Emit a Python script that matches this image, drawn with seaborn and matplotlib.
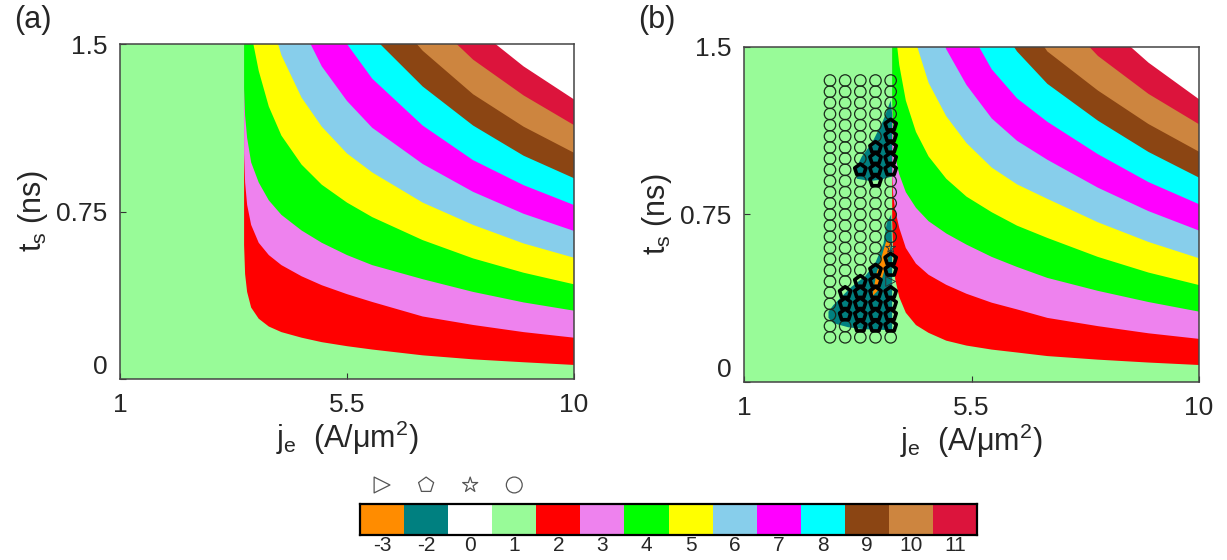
import numpy as np
import matplotlib
matplotlib.use("Agg")
import matplotlib.pyplot as plt
import seaborn as sns
from matplotlib.colors import ListedColormap

# colour key (value -> colour)
levels = [-3, -2, 0, 1, 2, 3, 4, 5, 6, 7, 8, 9, 10, 11]
level_colors = ["#FF8C00", "#008080", "#FFFFFF", "#98FB98", "#FF0000", "#EE82EE",
                "#00FF00", "#FFFF00", "#87CEEB", "#FF00FF", "#00FFFF", "#8B4513",
                "#CD853F", "#DC143C"]
# level found above boundary k (boundary 1 = first switch, ...)
band_levels = [2, 3, 4, 5, 6, 7, 8, 9, 10, 11, 0]

# panel (a): boundaries t_s(j_e)
a_j = [3.46, 3.48, 3.52, 3.6, 3.75, 3.95, 4.2, 4.6, 5.0, 5.5, 6.0, 7.0, 8.0, 9.0, 10.0]
a_bounds = [
    [0.60, 0.47, 0.39, 0.32, 0.27, 0.235, 0.21, 0.185, 0.165, 0.147, 0.132, 0.106, 0.088, 0.075, 0.063],
    [1.01, 0.88, 0.78, 0.69, 0.61, 0.555, 0.51, 0.46, 0.42, 0.38, 0.345, 0.28, 0.242, 0.21, 0.185],
    [1.30, 1.18, 1.08, 0.97, 0.88, 0.80, 0.735, 0.665, 0.61, 0.555, 0.51, 0.447, 0.39, 0.343, 0.306],
    [1.70, 1.62, 1.58, 1.55, 1.38, 1.22, 1.09, 0.96, 0.87, 0.79, 0.725, 0.622, 0.54, 0.476, 0.424],
    [2.4, 2.3, 2.2, 2.05, 1.85, 1.64, 1.45, 1.26, 1.13, 1.01, 0.925, 0.79, 0.69, 0.607, 0.543],
    [2.8, 2.7, 2.6, 2.45, 2.25, 2.05, 1.85, 1.58, 1.40, 1.245, 1.125, 0.963, 0.838, 0.74, 0.663],
    [3.1, 3.0, 2.9, 2.75, 2.6, 2.4, 2.15, 1.88, 1.69, 1.50, 1.345, 1.135, 0.98, 0.868, 0.779],
    [3.3, 3.2, 3.1, 3.0, 2.85, 2.65, 2.42, 2.12, 1.92, 1.71, 1.535, 1.31, 1.135, 1.0, 0.899],
    [3.6, 3.5, 3.4, 3.3, 3.15, 2.95, 2.7, 2.38, 2.15, 1.92, 1.73, 1.47, 1.275, 1.13, 1.013],
    [3.9, 3.8, 3.7, 3.6, 3.45, 3.25, 3.0, 2.65, 2.4, 2.15, 1.94, 1.645, 1.43, 1.27, 1.137],
    [4.2, 4.1, 4.0, 3.9, 3.75, 3.55, 3.3, 2.92, 2.65, 2.37, 2.14, 1.81, 1.58, 1.40, 1.252],
]

# panel (b)
b_j = [3.93, 3.95, 3.99, 4.07, 4.2, 4.4, 4.65, 5.0, 5.4, 5.9, 6.4, 7.0, 8.0, 9.0, 10.0]
b_bounds = [
    [0.72, 0.56, 0.46, 0.38, 0.31, 0.255, 0.22, 0.185, 0.163, 0.145, 0.132, 0.116, 0.100, 0.087, 0.076],
    [0.93, 0.84, 0.77, 0.69, 0.60, 0.53, 0.48, 0.435, 0.395, 0.355, 0.325, 0.287, 0.25, 0.218, 0.193],
    [1.26, 1.10, 1.01, 0.93, 0.85, 0.78, 0.72, 0.665, 0.615, 0.56, 0.515, 0.466, 0.408, 0.358, 0.315],
    [1.9, 1.75, 1.58, 1.42, 1.26, 1.12, 1.01, 0.91, 0.83, 0.76, 0.70, 0.645, 0.56, 0.49, 0.434],
    [2.6, 2.45, 2.3, 2.05, 1.78, 1.52, 1.34, 1.19, 1.07, 0.96, 0.885, 0.82, 0.715, 0.627, 0.554],
    [3.0, 2.9, 2.75, 2.55, 2.3, 2.0, 1.72, 1.49, 1.33, 1.18, 1.08, 0.995, 0.87, 0.765, 0.678],
    [3.4, 3.3, 3.15, 2.95, 2.7, 2.4, 2.1, 1.83, 1.6, 1.40, 1.27, 1.165, 1.02, 0.895, 0.796],
    [3.8, 3.7, 3.55, 3.35, 3.1, 2.8, 2.45, 2.15, 1.9, 1.65, 1.48, 1.335, 1.17, 1.03, 0.915],
    [4.2, 4.1, 3.95, 3.75, 3.5, 3.15, 2.8, 2.45, 2.17, 1.9, 1.68, 1.48, 1.305, 1.155, 1.031],
    [4.6, 4.5, 4.35, 4.15, 3.9, 3.5, 3.1, 2.75, 2.45, 2.15, 1.92, 1.70, 1.46, 1.29, 1.154],
    [5.0, 4.9, 4.75, 4.55, 4.3, 3.9, 3.45, 3.05, 2.72, 2.4, 2.15, 1.90, 1.63, 1.43, 1.266],
]

# -2 and -3 pockets in panel (b)
teal_up_j = [3.90, 3.75, 3.53, 3.33, 3.20, 3.23, 3.49, 3.69, 3.93, 3.93]
teal_up_t = [1.26, 1.17, 1.07, 1.01, 0.95, 0.91, 0.90, 0.905, 0.92, 1.20]
teal_lo_j = [3.91, 3.82, 3.76, 3.59, 3.39, 3.13, 2.93, 2.77, 2.67, 2.67, 2.77, 3.06, 3.39, 3.79, 3.93, 3.93]
teal_lo_t = [0.75, 0.71, 0.62, 0.53, 0.472, 0.427, 0.382, 0.345, 0.315, 0.287, 0.263, 0.245, 0.236, 0.233, 0.233, 0.60]
orange_j = [3.82, 3.72, 3.62, 3.56, 3.53, 3.66, 3.76, 3.85, 3.91]
orange_t = [0.636, 0.561, 0.487, 0.412, 0.382, 0.412, 0.487, 0.561, 0.621]

# simulation points in panel (b)
grid_j = [2.7, 3.0, 3.3, 3.6, 3.9]
grid_t = [0.2, 0.25, 0.3, 0.35, 0.4, 0.45, 0.5, 0.55, 0.6, 0.65, 0.7, 0.75,
          0.8, 0.85, 0.9, 0.95, 1.0, 1.05, 1.1, 1.15, 1.2, 1.25, 1.3, 1.35]
pent_j = [3.9, 3.9, 3.9, 3.9, 3.9, 3.6, 3.6, 3.6, 3.6, 3.3,
          3.9, 3.9, 3.9, 3.9, 3.9, 3.9, 3.6, 3.6, 3.6, 3.6, 3.6, 3.6,
          3.3, 3.3, 3.3, 3.3, 3.3, 3.0, 3.0, 3.0]
pent_t = [1.15, 1.1, 1.05, 1.0, 0.95, 1.05, 1.0, 0.95, 0.9, 0.95,
          0.55, 0.5, 0.4, 0.35, 0.3, 0.25, 0.5, 0.45, 0.4, 0.35, 0.3, 0.25,
          0.45, 0.4, 0.35, 0.3, 0.25, 0.4, 0.35, 0.3]
star_j, star_t = [3.9], [0.6]
tri_j, tri_t = [3.9], [0.45]

x_ticks = [1, 5.5, 10]
y_ticks = [0, 0.75, 1.5]

sns.set_style("ticks")
plt.rcParams['font.family'] = ['Liberation Sans', 'DejaVu Sans']
plt.rcParams['mathtext.default'] = 'regular'

color_of = dict(zip(levels, level_colors))


def draw_map(ax, j_grid, bounds):
    ax.set_facecolor(color_of[1])
    for lev, t_b in zip(band_levels, bounds):
        ax.fill_between(j_grid, t_b, 6, color=color_of[lev], lw=0)
    ax.set_xlim(1, 10)
    ax.set_ylim(0, 1.5)
    ax.set_xticks(x_ticks)
    ax.set_xticklabels(["1", "5.5", "10"])
    ax.set_yticks(y_ticks)
    ax.set_yticklabels(["0", "0.75", "1.5"])
    ax.get_yticklabels()[0].set_verticalalignment('bottom')
    ax.tick_params(direction='in', length=4, width=0.8, labelsize=19, color='#333333')
    ax.tick_params(axis='x', pad=10)
    ax.tick_params(axis='y', pad=9)
    for s in ax.spines.values():
        s.set_visible(True)
        s.set_color('#444444')
        s.set_linewidth(1.1)
    ax.set_xlabel("j$_e$  (A/μm$^2$)", fontsize=22)
    ax.set_ylabel("t$_s$ (ns)", fontsize=22)
    ax.xaxis.set_label_coords(0.5, -0.118)
    ax.yaxis.set_label_coords(-0.155, 0.5)


fig = plt.figure(figsize=(12.27, 5.6), dpi=100)
ax_a = fig.add_axes([0.0978, 0.3232, 0.3700, 0.5982])
ax_b = fig.add_axes([0.6064, 0.3179, 0.3708, 0.5982])

draw_map(ax_a, a_j, a_bounds)
draw_map(ax_b, b_j, b_bounds)

ax_b.fill(teal_up_j, teal_up_t, color=color_of[-2], lw=0)
ax_b.fill(teal_lo_j, teal_lo_t, color=color_of[-2], lw=0)
ax_b.fill(orange_j, orange_t, color=color_of[-3], lw=0)

special = set(zip(pent_j, pent_t)) | set(zip(star_j, star_t)) | set(zip(tri_j, tri_t))
circ_j, circ_t = [], []
for jj in grid_j:
    for tt in grid_t:
        if (jj, tt) not in special:
            circ_j.append(jj)
            circ_t.append(tt)

ax_b.scatter(circ_j, circ_t, s=68, marker='o', facecolors='none',
             edgecolors='#1b2b1b', linewidths=0.9, zorder=3)
ax_b.scatter(pent_j, pent_t, s=72, marker='p', facecolors='none',
             edgecolors='black', linewidths=2.6, zorder=4)
ax_b.scatter(star_j, star_t, s=55, marker='*', facecolors='none',
             edgecolors='#333333', linewidths=0.7, zorder=4)
ax_b.scatter(tri_j, tri_t, s=50, marker='>', facecolors='none',
             edgecolors='#333333', linewidths=0.7, zorder=4)

fig.text(0.027, 0.965, "(a)", fontsize=22, ha='center', va='center')
fig.text(0.535, 0.965, "(b)", fontsize=22, ha='center', va='center')

# discrete colour key
cax = fig.add_axes([0.2934, 0.0446, 0.5029, 0.0554])
sns.heatmap(np.arange(len(levels)).reshape(1, -1), cmap=ListedColormap(level_colors),
            vmin=-0.5, vmax=len(levels) - 0.5, cbar=False, ax=cax,
            xticklabels=levels, yticklabels=False, linewidths=0)
cax.tick_params(axis='x', direction='in', length=4, width=0.8, labelsize=15, pad=1,
                color='#333333', labelrotation=0)
cax.tick_params(axis='y', length=0)
for s in cax.spines.values():
    s.set_visible(True)
    s.set_color('black')
    s.set_linewidth(1.6)

# marker key above the colour key
kax = fig.add_axes([0.2934, 0.1161, 0.5029, 0.0357])
kax.set_xlim(0, len(levels))
kax.set_ylim(0, 1)
kax.axis('off')
for xm, mk in zip([0.5, 1.5, 2.5, 3.5], ['>', 'p', '*', 'o']):
    kax.scatter([xm], [0.5], s=130, marker=mk, facecolors='none',
                edgecolors='#555555', linewidths=0.9, clip_on=False)

fig.savefig("out.png", dpi=100)
